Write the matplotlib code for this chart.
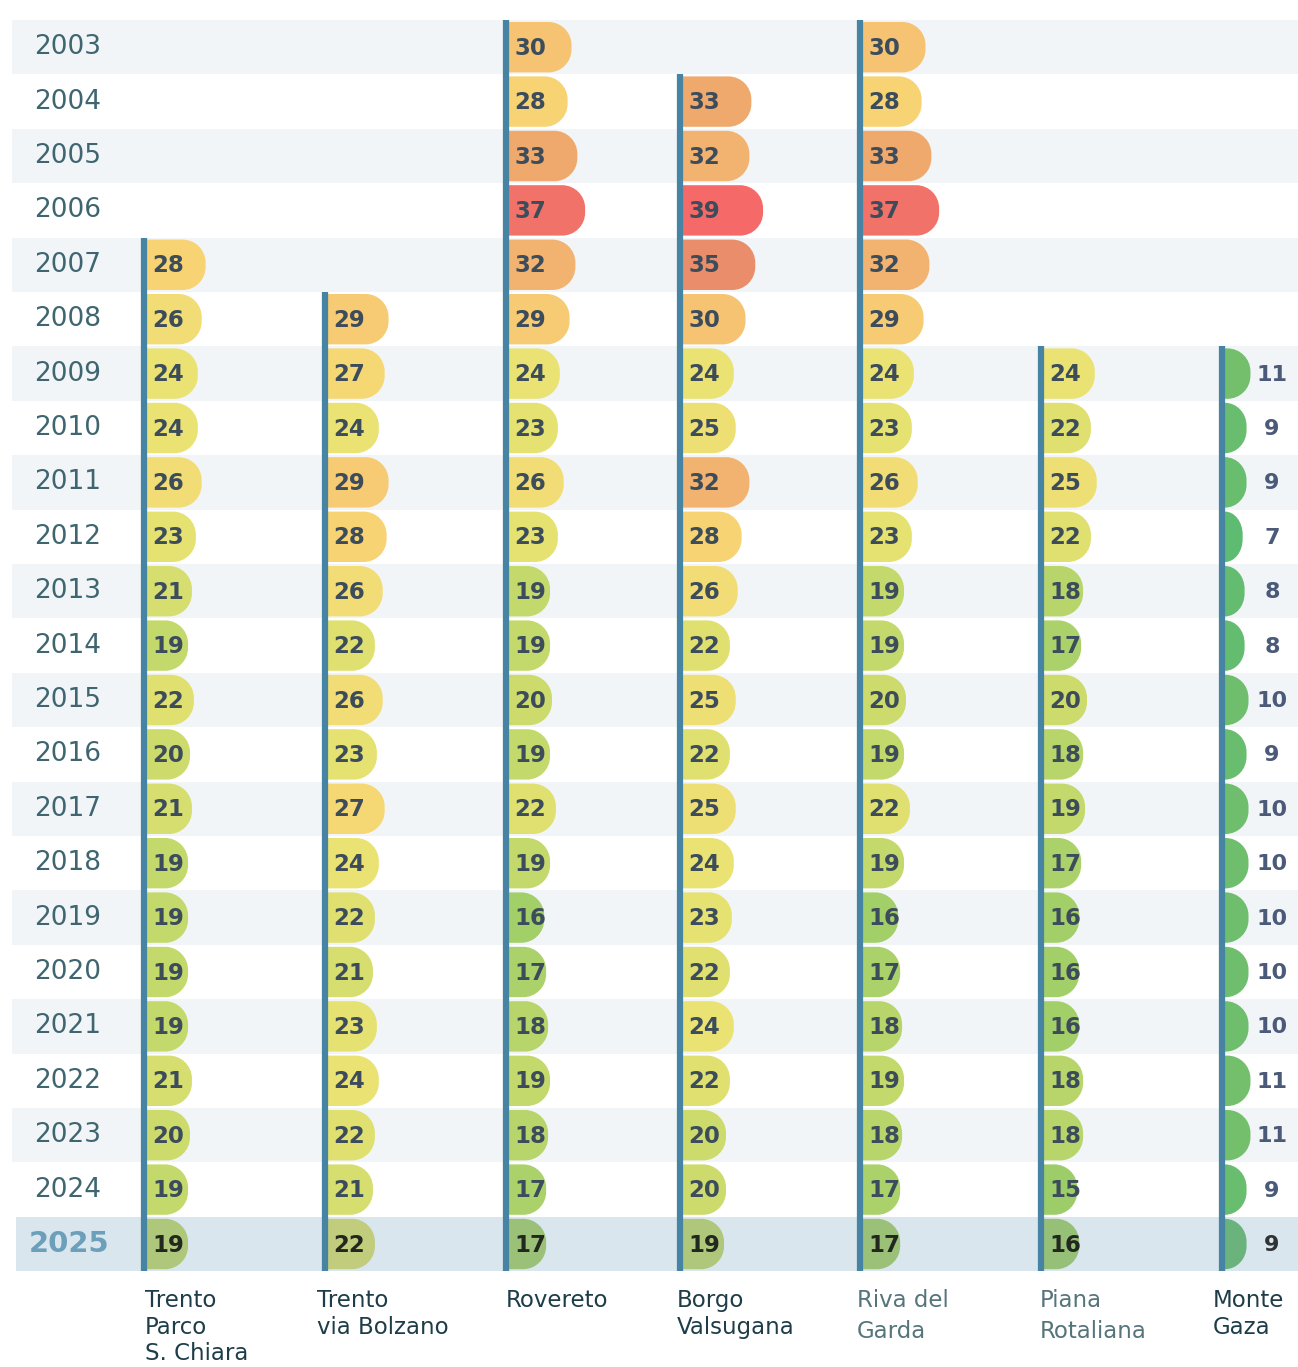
import numpy as np
import matplotlib.pyplot as plt
from matplotlib.path import Path
from matplotlib.patches import PathPatch, Rectangle
from matplotlib.colors import LinearSegmentedColormap

years = list(range(2003, 2026))

stations = ["Trento\nParco\nS. Chiara", "Trento\nvia Bolzano", "Rovereto",
            "Borgo\nValsugana", "Riva del\nGarda", "Piana\nRotaliana", "Monte\nGaza"]
first_year = [2007, 2008, 2003, 2004, 2003, 2009, 2009]

trento_parco = [28, 26, 24, 24, 26, 23, 21, 19, 22, 20, 21, 19, 19, 19, 19, 21, 20, 19, 19]
trento_bolzano = [29, 27, 24, 29, 28, 26, 22, 26, 23, 27, 24, 22, 21, 23, 24, 22, 21, 22]
rovereto = [30, 28, 33, 37, 32, 29, 24, 23, 26, 23, 19, 19, 20, 19, 22, 19, 16, 17, 18, 19, 18, 17, 17]
borgo = [33, 32, 39, 35, 30, 24, 25, 32, 28, 26, 22, 25, 22, 25, 24, 23, 22, 24, 22, 20, 20, 19]
riva = [30, 28, 33, 37, 32, 29, 24, 23, 26, 23, 19, 19, 20, 19, 22, 19, 16, 17, 18, 19, 18, 17, 17]
piana = [24, 22, 25, 22, 18, 17, 20, 18, 19, 17, 16, 16, 16, 18, 18, 15, 16]
monte_gaza = [11, 9, 9, 7, 8, 8, 10, 9, 10, 10, 10, 10, 10, 11, 11, 9, 9]

series = [trento_parco, trento_bolzano, rovereto, borgo, riva, piana, monte_gaza]

# layout (pixel space)
W, H = 1298, 1367
row_top0, row_h = 20, 54.4
col_x = [144, 325, 506, 680, 860, 1041, 1222]
label_x = [145, 317, 506, 677, 857, 1040, 1213]
px_per_unit, px_base = 1.95, 4
line_color = "#4783a3"

stops = [(7, "#5dbb72"), (11, "#73bf6c"), (15, "#9ccd68"), (17, "#aad16a"),
         (19, "#c4d96c"), (22, "#dfe070"), (24, "#eae374"), (26, "#f2dc75"),
         (28, "#f7d474"), (30, "#f5c472"), (32, "#f2b470"), (33, "#efaa6d"),
         (35, "#e98f6b"), (37, "#f07268"), (39, "#f56a68")]
vmin, vmax = stops[0][0], stops[-1][0]
cmap = LinearSegmentedColormap.from_list(
    "aqi", [((v - vmin) / (vmax - vmin), c) for v, c in stops])


def pill(x0, y0, w, h, r):
    # square on the left, rounded on the right
    rx = min(r, w)
    ry = min(r, h / 2)
    k = 0.5523
    x1, y1 = x0 + w, y0 + h
    verts = [(x0, y0), (x1 - rx, y0),
             (x1 - rx + k * rx, y0), (x1, y0 + ry - k * ry), (x1, y0 + ry),
             (x1, y1 - ry),
             (x1, y1 - ry + k * ry), (x1 - rx + k * rx, y1), (x1 - rx, y1),
             (x0, y1), (x0, y0)]
    codes = [Path.MOVETO, Path.LINETO,
             Path.CURVE4, Path.CURVE4, Path.CURVE4,
             Path.LINETO,
             Path.CURVE4, Path.CURVE4, Path.CURVE4,
             Path.LINETO, Path.CLOSEPOLY]
    return Path(verts, codes)


fig = plt.figure(figsize=(W / 100, H / 100), dpi=100)
ax = fig.add_axes([0, 0, 1, 1])
ax.set_xlim(0, W)
ax.set_ylim(H, 0)
ax.axis("off")

# row bands + year labels
for i, yr in enumerate(years):
    top = row_top0 + i * row_h
    if yr == 2025:
        ax.add_patch(Rectangle((16, top), W - 16, row_h, color="#dae6ee", lw=0, zorder=0))
    elif i % 2 == 0:
        ax.add_patch(Rectangle((12, top), W - 12, row_h, color="#f1f5f8", lw=0, zorder=0))
    cy = top + row_h / 2
    if yr == 2025:
        ax.text(69, cy, str(yr), ha="center", va="center", fontsize=21,
                fontweight="bold", color="#6c9fba")
    else:
        ax.text(68, cy, str(yr), ha="center", va="center", fontsize=19,
                color="#3f6670")

mute = np.array([0.45, 0.6, 0.62])
for j, (vals, fy) in enumerate(zip(series, first_year)):
    start = years.index(fy)
    x = col_x[j]
    for k, v in enumerate(vals):
        i = start + k
        top = row_top0 + i * row_h
        w = px_per_unit * v + px_base
        c = np.array(cmap((v - vmin) / (vmax - vmin))[:3])
        last = years[i] == 2025
        if last:
            c = 0.72 * c + 0.28 * mute
        ax.add_patch(PathPatch(pill(x + 3, top + 2, w, row_h - 4, 23),
                               facecolor=c, edgecolor="none", zorder=2))
        cy = top + row_h / 2 + 1
        if j == len(series) - 1:
            ax.text(1272, cy, str(v), ha="center", va="center", fontsize=16,
                    fontweight="bold", color="#2f3336" if last else "#4a5a78", zorder=4)
        else:
            ax.text(x + 8, cy, str(v), ha="left", va="center", fontsize=16.5,
                    fontweight="bold", color="#22281f" if last else "#3c4c5a", zorder=4)
    line_top = row_top0 + start * row_h
    line_bot = row_top0 + len(years) * row_h
    ax.plot([x, x], [line_top, line_bot], color=line_color, lw=4.5,
            solid_capstyle="butt", zorder=3)

# station names
for j, name in enumerate(stations):
    light = j in (4, 5)
    ax.text(label_x[j], 1289, name, ha="left", va="top", fontsize=16.5,
            color="#55747c" if light else "#1e3d48",
            linespacing=1.42 if light else 1.2)

fig.savefig("out.png", dpi=100)
